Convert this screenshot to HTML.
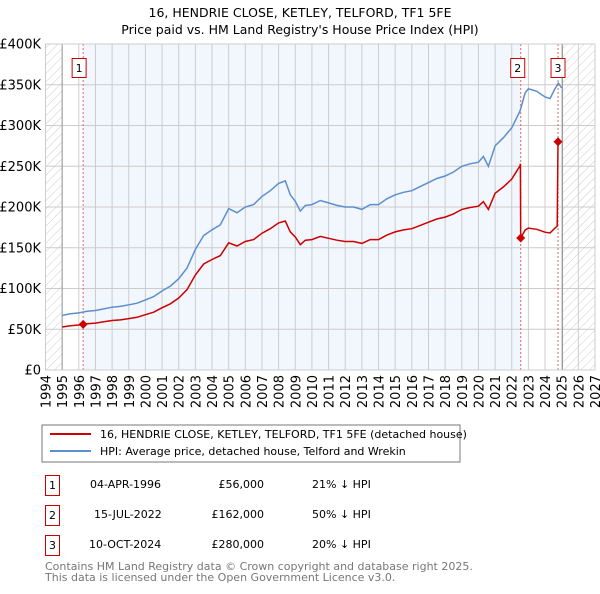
<!DOCTYPE html>
<html><head><meta charset="utf-8"><style>
body{margin:0;background:#fff;font-family:"DejaVu Sans","Liberation Sans",sans-serif;}
svg text{font-family:"DejaVu Sans","Liberation Sans",sans-serif;}
</style></head><body>
<svg id="c" width="600" height="590" xmlns="http://www.w3.org/2000/svg">
<defs><pattern id="hatch" width="6" height="6" patternUnits="userSpaceOnUse" patternTransform="rotate(45)"><line x1="0" y1="0" x2="0" y2="6" stroke="#ccc" stroke-width="1"/></pattern></defs>
<text x="300" y="17" text-anchor="middle" font-size="12.5">16, HENDRIE CLOSE, KETLEY, TELFORD, TF1 5FE</text>
<text x="300" y="34" text-anchor="middle" font-size="12.5">Price paid vs. HM Land Registry's House Price Index (HPI)</text>
<g id="plot"></g>
<rect x="42" y="425" width="418" height="37" fill="#fff" stroke="#777"/>
<line x1="50" y1="434" x2="91" y2="434" stroke="#cc0000" stroke-width="2"/>
<text x="100" y="438" font-size="11">16, HENDRIE CLOSE, KETLEY, TELFORD, TF1 5FE (detached house)</text>
<line x1="50" y1="451" x2="91" y2="451" stroke="#5b8fd0" stroke-width="2"/>
<text x="100" y="455" font-size="11">HPI: Average price, detached house, Telford and Wrekin</text>
<g font-size="11">
<rect x="45.5" y="475.5" width="14" height="20" fill="#fff" stroke="#cc0000"/><text x="52.5" y="489" text-anchor="middle">1</text>
<text x="90" y="488">04-APR-1996</text><text x="264" y="488" text-anchor="end">£56,000</text><text x="312" y="488">21% ↓ HPI</text>
<rect x="45.5" y="505.5" width="14" height="20" fill="#fff" stroke="#cc0000"/><text x="52.5" y="519" text-anchor="middle">2</text>
<text x="94" y="518">15-JUL-2022</text><text x="264" y="518" text-anchor="end">£162,000</text><text x="312" y="518">50% ↓ HPI</text>
<rect x="45.5" y="535.5" width="14" height="20" fill="#fff" stroke="#cc0000"/><text x="52.5" y="549" text-anchor="middle">3</text>
<text x="89" y="548">10-OCT-2024</text><text x="264" y="548" text-anchor="end">£280,000</text><text x="312" y="548">20% ↓ HPI</text>
</g>
<text x="45" y="570" font-size="11" fill="#777">Contains HM Land Registry data © Crown copyright and database right 2025.</text>
<text x="45" y="581" font-size="11" fill="#777">This data is licensed under the Open Government Licence v3.0.</text>
</svg>
<script>
const yearTicks=[1994,1995,1996,1997,1998,1999,2000,2001,2002,2003,2004,2005,2006,2007,2008,2009,2010,2011,2012,2013,2014,2015,2016,2017,2018,2019,2020,2021,2022,2023,2024,2025,2026,2027];
const valueTicks=[0,50,100,150,200,250,300,350,400];
const valueTickLabels=["£0","£50K","£100K","£150K","£200K","£250K","£300K","£350K","£400K"];
const hpiYears=[1995,1995.5,1996,1996.5,1997,1997.5,1998,1998.5,1999,1999.5,2000,2000.5,2001,2001.5,2002,2002.5,2003,2003.5,2004,2004.5,2005,2005.5,2006,2006.5,2007,2007.5,2008,2008.4,2008.7,2009,2009.3,2009.6,2010,2010.5,2011,2011.5,2012,2012.5,2013,2013.5,2014,2014.5,2015,2015.5,2016,2016.5,2017,2017.5,2018,2018.5,2019,2019.5,2020,2020.3,2020.6,2021,2021.5,2022,2022.5,2022.8,2023,2023.5,2024,2024.3,2024.6,2024.8,2025];
const hpiValues=[67,69,70,72,73,75,77,78,80,82,86,90,97,103,112,125,148,165,172,178,198,193,200,203,213,220,229,232,215,207,195,202,203,208,205,202,200,200,197,203,203,210,215,218,220,225,230,235,238,243,250,253,255,262,250,275,285,297,318,340,345,342,335,333,345,352,346];
const saleYears=[1996.26,2022.54,2024.78];
const salePrices=[56,162,280];
const saleLabels=["1","2","3"];

const NS="http://www.w3.org/2000/svg";
const X0=45.5,X1=595,Y0=370,Y1=44;
const xs=y=>X0+(y-1994)/(2027-1994)*(X1-X0);
const ys=v=>Y0-v/400*(Y0-Y1);
const g=document.getElementById('plot');
function mk(t,a){const e=document.createElementNS(NS,t);for(const k in a)e.setAttribute(k,a[k]);g.appendChild(e);return e;}
function hpiAt(t){for(let i=0;i<hpiYears.length-1;i++){if(t>=hpiYears[i]&&t<=hpiYears[i+1]){const f=(t-hpiYears[i])/(hpiYears[i+1]-hpiYears[i]);return hpiValues[i]+f*(hpiValues[i+1]-hpiValues[i]);}}return hpiValues[hpiValues.length-1];}

let e=mk('rect',{x:X0,y:Y1,width:X1-X0,height:Y0-Y1,fill:'#fff'});

e=mk('rect',{x:xs(saleYears[0]),y:Y1,width:xs(saleYears[1])-xs(saleYears[0]),height:Y0-Y1,fill:'#f2f6fd'});

e=mk('rect',{x:X0,y:Y1,width:xs(1995)-X0,height:Y0-Y1,fill:'url(#hatch)'});

e=mk('rect',{x:xs(2025.05),y:Y1,width:X1-xs(2025.05),height:Y0-Y1,fill:'url(#hatch)'});


yearTicks.forEach(yr=>{
 const l=mk('line',{x1:xs(yr),x2:xs(yr),y1:Y1,y2:Y0,stroke:'#ccc','stroke-width':1});
 
 const t=mk('text',{x:0,y:0,'font-size':13,'text-anchor':'end',transform:`translate(${xs(yr)+5},${Y0+5}) rotate(-90)`});
 t.textContent=yr;
 
});
valueTicks.forEach((v,i)=>{
 const l=mk('line',{x1:X0,x2:X1,y1:ys(v),y2:ys(v),stroke:'#ccc','stroke-width':1});
 
 const t=mk('text',{x:41,y:ys(v)+4.5,'font-size':13,'text-anchor':'end'});
 t.textContent=valueTickLabels[i];
 
});
e=mk('line',{x1:xs(1995),x2:xs(1995),y1:Y1,y2:Y0,stroke:'#999'});

e=mk('line',{x1:xs(2025.05),x2:xs(2025.05),y1:Y1,y2:Y0,stroke:'#999'});


saleYears.forEach((sy,i)=>{
 const l=mk('line',{x1:xs(sy),x2:xs(sy),y1:Y1,y2:Y0,stroke:'#e06666','stroke-width':1,'stroke-dasharray':'2,2'});
 
});

let d=hpiYears.map((yr,i)=>(i?'L':'M')+xs(yr).toFixed(1)+','+ys(hpiValues[i]).toFixed(1)).join('');
e=mk('path',{d:d,fill:'none',stroke:'#5b8fd0','stroke-width':1.5});


let pts=[];
const r0=salePrices[0]/hpiAt(saleYears[0]);
pts.push([1995,hpiValues[0]*r0]);
hpiYears.forEach((yr,i)=>{if(yr>1995&&yr<saleYears[1])pts.push([yr,hpiValues[i]*r0]);});
pts.push([saleYears[1]-0.02,hpiAt(saleYears[1])*r0]);
const r1=salePrices[1]/hpiAt(saleYears[1]);
pts.push([saleYears[1],salePrices[1]]);
hpiYears.forEach((yr,i)=>{if(yr>saleYears[1]&&yr<saleYears[2])pts.push([yr,hpiValues[i]*r1]);});
pts.push([saleYears[2]-0.05,hpiAt(saleYears[2]-0.05)*r1]);
pts.push([saleYears[2],salePrices[2]]);
pts.push([2024.92,salePrices[2]]);
d=pts.map((p,i)=>(i?'L':'M')+xs(p[0]).toFixed(1)+','+ys(p[1]).toFixed(1)).join('');
e=mk('path',{d:d,fill:'none',stroke:'#cc0000','stroke-width':1.5});


saleYears.forEach((sy,i)=>{
 const cx=xs(sy),cy=ys(salePrices[i]);
 const p=mk('path',{d:`M${cx},${cy-4.5}L${cx+4.5},${cy}L${cx},${cy+4.5}L${cx-4.5},${cy}Z`,fill:'#cc0000'});
 
 const bx=i==2?cx-7:cx-(i==0?11:10);
 const r=mk('rect',{x:bx,y:58.5,width:14,height:19,fill:'#fff',stroke:'#cc0000'});
 
 const t=mk('text',{x:bx+7,y:72,'font-size':11,'text-anchor':'middle'});
 t.textContent=saleLabels[i];
 
});
e=mk('rect',{x:X0,y:Y1,width:X1-X0,height:Y0-Y1,fill:'none',stroke:'#ccc'});

</script>
</body></html>
